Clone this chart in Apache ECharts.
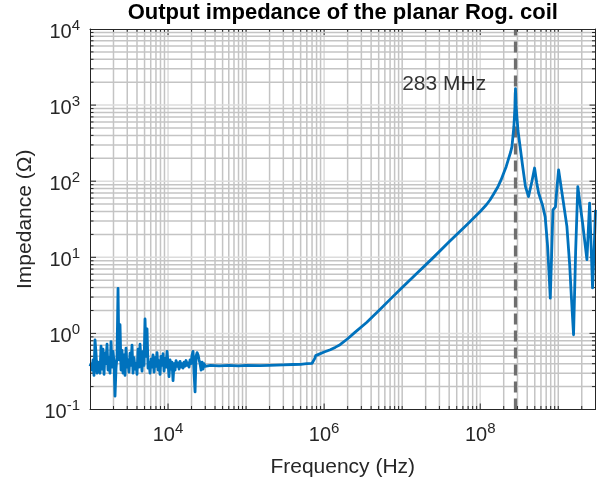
<!DOCTYPE html>
<html><head><meta charset="utf-8">
<script src="https://cdn.jsdelivr.net/npm/echarts@6/dist/echarts.min.js"></script>
<style>html,body{margin:0;padding:0;background:#fff}#c{width:603px;height:485px}</style>
</head><body><div id="c"></div>
<script>
const titleText = 'Output impedance of the planar Rog. coil';
const xName = 'Frequency (Hz)';
const yName = 'Impedance (\u03A9)';
const X_MIN = 1e3, X_MAX = 3e9, Y_MIN = 0.1, Y_MAX = 1e4;
const xLabelExps = [4, 6, 8];
const yLabelExps = [-1, 0, 1, 2, 3, 4];
const resonanceHz = 283e6;
const resonanceLabel = '283 MHz';
const resonanceLabelPos = [1e7, 1900];

const freqHz = [
  1000,1030,1061,1093,1125,1159,1194,1230,1266,1304,
  1343,1384,1425,1468,1512,1557,1604,1652,1701,1752,
  1805,1859,1915,1972,2031,2092,2155,2219,2286,2354,
  2425,2498,2572,2649,2729,2810,2894,2981,3071,3162,
  3257,3355,3455,3559,3665,3775,3888,4005,4125,4248,
  4376,4507,4642,4781,4924,5072,5224,5380,5541,5707,
  5878,6054,6236,6422,6615,6813,7017,7227,7444,7667,
  7896,8133,8377,8627,8886,9152,9426,9709,10000,10300,
  10610,10930,11250,11590,11940,12300,12660,13040,13430,13840,
  14250,14680,15120,15570,16040,16520,17010,17520,18050,18590,
  19150,19720,20310,20920,21550,22190,22860,23540,24250,24980,
  25720,26490,27290,28100,28940,29810,30710,
  35000,45000,60000,80000,1e5,1.5e5,2e5,3e5,4e5,5e5,
  6e5,7e5,7.4e5,7.6e5,7.8e5,8.5e5,1e6,1.2e6,1.4e6,1.6e6,
  2e6,2.5e6,3.5e6,5e6,7e6,1e7,1.5e7,2.5e7,4e7,6.8e7,
  1e8,1.2e8,1.34e8,1.5e8,1.7e8,1.85e8,2e8,2.15e8,2.3e8,2.45e8,
  2.55e8,2.7e8,2.78e8,2.83e8,2.88e8,
  2.95e8,3.05e8,3.2e8,3.5e8,3.8e8,4.16e8,4.6e8,4.97e8,5.3e8,5.6e8,
  6.3e8,6.8e8,7.3e8,7.7e8,7.9e8,8.2e8,8.55e8,9.2e8,9.6e8,1.01e9,
  1.15e9,1.29e9,1.4e9,1.47e9,1.57e9,1.67e9,1.78e9,2.05e9,2.33e9,2.52e9,
  2.65e9,2.75e9,2.9e9,3e9
];
const impedanceOhm = [
  0.37,0.40,0.33,0.45,0.28,0.82,0.55,0.30,0.42,0.36,
  0.30,0.68,0.34,0.62,0.29,0.55,0.40,0.72,0.33,0.48,
  0.30,0.78,0.36,0.58,0.42,0.15,0.35,0.50,3.9,0.45,
  1.3,0.33,0.60,0.30,0.52,0.28,0.64,0.36,0.45,0.31,
  0.55,0.38,0.70,0.30,0.48,0.34,0.40,0.29,0.62,0.36,
  0.72,0.44,0.32,0.58,0.38,1.55,0.50,1.15,0.35,0.42,
  0.30,0.46,0.36,0.52,0.31,0.48,0.37,0.56,0.33,0.44,
  0.29,0.50,0.38,0.54,0.32,0.47,0.36,0.58,0.40,0.27,
  0.45,0.34,0.42,0.24,0.40,0.33,0.44,0.37,0.41,0.34,
  0.43,0.36,0.40,0.35,0.42,0.37,0.44,0.38,0.41,0.36,
  0.45,0.40,0.52,0.58,0.30,0.17,0.50,0.56,0.52,0.45,
  0.40,0.33,0.42,0.34,0.40,0.37,0.38,
  0.38,0.375,0.38,0.375,0.38,0.378,0.38,0.385,0.39,0.392,
  0.40,0.405,0.41,0.47,0.51,0.53,0.57,0.61,0.66,0.71,
  0.85,1.04,1.39,1.98,2.8,4.0,6.0,9.9,16,27,
  40,49,57,69,86,104,128,155,195,240,
  285,520,900,1650,1000,
  700,460,316,156,85,63,100,149,95,70,
  48,34,14,5,2.9,10,42,46,80,141,
  57,25.5,8,3.1,0.96,12,85,28,9.3,51.6,
  12,3.96,15,42
];

const FONT = '"Liberation Sans", Arial, Helvetica, sans-serif';
const TXT = '#262626';

// grid / tick values derived from axis ranges
const gridItems = [];
for (let d = 3; d <= 9; d++) {
  for (let m = 1; m <= 9; m++) {
    const v = m * Math.pow(10, d);
    if (v <= X_MIN * 1.0001 || v >= X_MAX * 0.9999) continue;
    const major = (m === 1 && xLabelExps.indexOf(d) >= 0) ? 1 : 0;
    gridItems.push([v, 1, major, 0]);
  }
}
for (let d = -1; d <= 4; d++) {
  for (let m = 1; m <= 9; m++) {
    const v = m * Math.pow(10, d);
    if (v <= Y_MIN * 1.0001 || v >= Y_MAX * 0.9999) continue;
    gridItems.push([1e5, v, m === 1 ? 1 : 0, 1]);
  }
}

function renderGrid(params, api) {
  const cs = params.coordSys;
  const orient = api.value(3);
  const major = api.value(2) === 1;
  const stroke = major ? '#dcdcdc' : '#c4c4c4';
  const tl = major ? 6 : 3.5;
  const tickStyle = { stroke: TXT, lineWidth: 1 };
  const ch = [];
  if (orient === 0) {
    const x = api.coord([api.value(0), 1])[0];
    const y0 = cs.y, y1 = cs.y + cs.height;
    ch.push({ type: 'line', shape: { x1: x, y1: y0, x2: x, y2: y1 }, style: { stroke: stroke, lineWidth: 1.5 } });
    ch.push({ type: 'line', shape: { x1: x, y1: y1, x2: x, y2: y1 - tl }, style: tickStyle });
    ch.push({ type: 'line', shape: { x1: x, y1: y0, x2: x, y2: y0 + tl }, style: tickStyle });
  } else {
    const y = api.coord([1e5, api.value(1)])[1];
    const x0 = cs.x, x1 = cs.x + cs.width;
    ch.push({ type: 'line', shape: { x1: x0, y1: y, x2: x1, y2: y }, style: { stroke: stroke, lineWidth: 1.5 } });
    ch.push({ type: 'line', shape: { x1: x0, y1: y, x2: x0 + tl, y2: y }, style: tickStyle });
    ch.push({ type: 'line', shape: { x1: x1, y1: y, x2: x1 - tl, y2: y }, style: tickStyle });
  }
  return { type: 'group', children: ch };
}

function expLabel(exps) {
  return function (value) {
    const l = Math.log10(value);
    const e = Math.round(l);
    if (Math.abs(l - e) > 1e-6 || exps.indexOf(e) < 0) return '';
    return '{b|10}{s|' + (e < 0 ? '-' + (-e) : e) + '}';
  };
}
const richLbl = {
  b: { fontSize: 20, lineHeight: 20, fontFamily: FONT, color: TXT, verticalAlign: 'bottom' },
  s: { fontSize: 15, lineHeight: 15, fontFamily: FONT, color: TXT, verticalAlign: 'bottom', padding: [0, 0, 9, 0] }
};

const chart = echarts.init(document.getElementById('c'), null, { renderer: 'canvas' });
chart.setOption({
  animation: false,
  backgroundColor: '#ffffff',
  graphic: [{
    type: 'text', x: 342.75, y: 13, silent: true,
    style: { text: titleText, fill: '#000', font: 'bold 22px ' + FONT, align: 'center', verticalAlign: 'middle' }
  }],
  grid: { left: 90, right: 7.5, top: 29, bottom: 75.5, show: false },
  xAxis: [{
    type: 'log', logBase: 10, min: X_MIN, max: X_MAX, interval: 1, position: 'bottom', z: 5,
    axisLine: { show: true, onZero: false, lineStyle: { color: TXT, width: 1 } },
    axisTick: { show: false }, splitLine: { show: false }, minorTick: { show: false },
    axisLabel: { formatter: expLabel(xLabelExps), rich: richLbl, margin: 16, hideOverlap: false, showMinLabel: true, showMaxLabel: true },
    name: xName, nameLocation: 'middle', nameGap: 47, nameMoveOverlap: false,
    nameTextStyle: { fontSize: 21, color: TXT, fontFamily: FONT, verticalAlign: 'top' }
  }, {
    type: 'log', logBase: 10, min: X_MIN, max: X_MAX, interval: 1, position: 'top', z: 5,
    axisLine: { show: true, onZero: false, lineStyle: { color: TXT, width: 1 } },
    axisTick: { show: false }, splitLine: { show: false }, axisLabel: { show: false }
  }],
  yAxis: [{
    type: 'log', logBase: 10, min: Y_MIN, max: Y_MAX, interval: 1, position: 'left', z: 5,
    axisLine: { show: true, onZero: false, lineStyle: { color: TXT, width: 1 } },
    axisTick: { show: false }, splitLine: { show: false }, minorTick: { show: false },
    axisLabel: { formatter: expLabel(yLabelExps), rich: richLbl, margin: 10, padding: [6, 0, 0, 0], hideOverlap: false, showMinLabel: true, showMaxLabel: true },
    name: yName, nameLocation: 'middle', nameGap: 54, nameRotate: 90, nameMoveOverlap: false,
    nameTextStyle: { fontSize: 21, color: TXT, fontFamily: FONT }
  }, {
    type: 'log', logBase: 10, min: Y_MIN, max: Y_MAX, interval: 1, position: 'right', z: 5,
    axisLine: { show: true, onZero: false, lineStyle: { color: TXT, width: 1 } },
    axisTick: { show: false }, splitLine: { show: false }, axisLabel: { show: false }
  }],
  series: [{
    type: 'custom', name: 'grid', z: 1, silent: true,
    xAxisIndex: 0, yAxisIndex: 0,
    renderItem: renderGrid, data: gridItems, encode: { x: 0, y: 1 }, clip: false
  }, {
    type: 'line', name: 'resonance', z: 2, silent: true, xAxisIndex: 0, yAxisIndex: 0,
    data: [[resonanceHz, Y_MIN], [resonanceHz, Y_MAX]], showSymbol: false, symbol: 'none',
    lineStyle: { color: '#6e6e6e', width: 3.2, type: [11, 6] }
  }, {
    type: 'line', name: 'Z', z: 3, silent: true, xAxisIndex: 0, yAxisIndex: 0,
    data: freqHz.map((f, i) => [f, impedanceOhm[i]]), showSymbol: false, symbol: 'none',
    lineStyle: { color: '#0072BD', width: 2.8, join: 'round' }
  }, {
    type: 'scatter', name: 'label', z: 4, silent: true, xAxisIndex: 0, yAxisIndex: 0,
    data: [resonanceLabelPos], symbolSize: 0,
    label: { show: true, formatter: resonanceLabel, position: 'inside', align: 'left', verticalAlign: 'middle',
      fontSize: 21, color: '#000', fontFamily: FONT }
  }]
});
</script>
</body></html>
